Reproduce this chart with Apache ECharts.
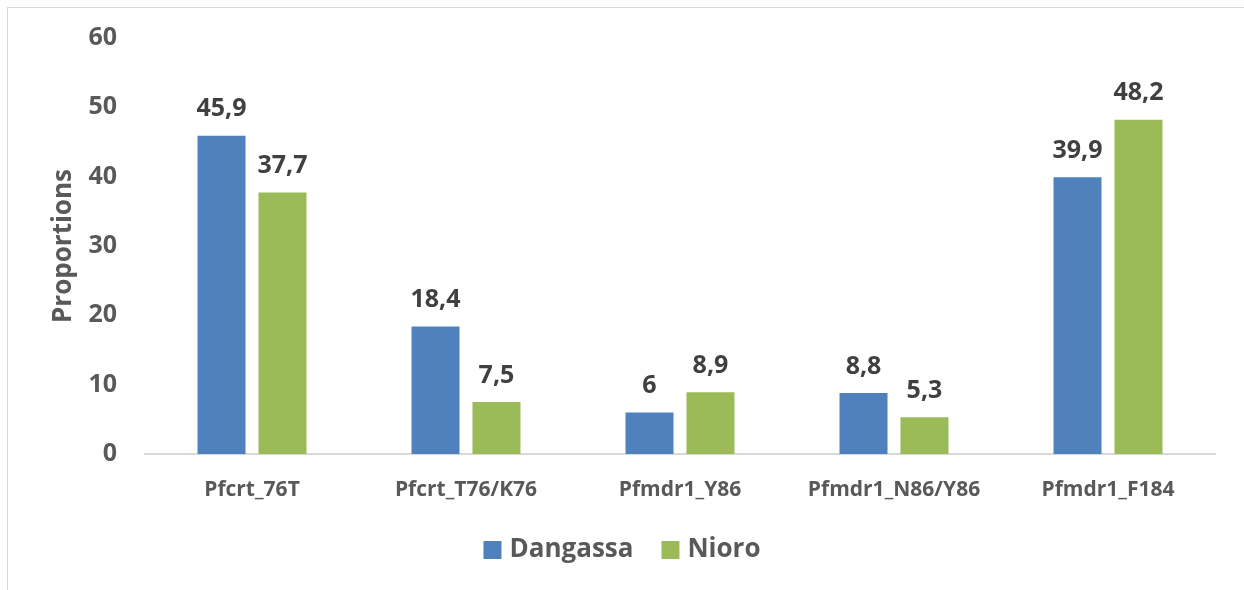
<!DOCTYPE html>
<html>
<head>
<meta charset="utf-8">
<script src="https://cdn.jsdelivr.net/npm/echarts@6/dist/echarts.min.js"></script>
<style>
  html, body { margin: 0; padding: 0; background: #fff; }
  #frame { position: absolute; left: 7px; top: 7px; width: 1240px; height: 590px; border: 1px solid #d9d9d9; box-sizing: border-box; }
  #chart { position: absolute; left: 0; top: 0; width: 1244px; height: 590px; }
</style>
</head>
<body>
<div id="frame"></div>
<div id="chart"></div>
<script>
var categories = ['Pfcrt_76T', 'Pfcrt_T76/K76', 'Pfmdr1_Y86', 'Pfmdr1_N86/Y86', 'Pfmdr1_F184'];
var dangassa = [45.9, 18.4, 6, 8.8, 39.9];
var nioro = [37.7, 7.5, 8.9, 5.3, 48.2];

var fontFamily = '"Open Sans", Lato, sans-serif';

// values use a decimal comma, as in the original figure
function commaLabel(p) {
    return String(p.value).replace('.', ',');
}

var labelStyle = {
    show: true,
    position: 'top',
    distance: 14,
    formatter: commaLabel,
    color: '#404040',
    fontSize: 25,
    fontWeight: 'bold',
    fontFamily: fontFamily
};

var chart = echarts.init(document.getElementById('chart'));
chart.setOption({
    animation: false,
    grid: { left: 145, right: 29, top: 38, bottom: 136 },
    legend: {
        bottom: 22,
        left: 'center',
        itemWidth: 18,
        itemHeight: 18,
        itemGap: 28,
        icon: 'rect',
        textStyle: { color: '#595959', fontSize: 26, fontWeight: 'bold', fontFamily: fontFamily, padding: [0, 0, 0, 3] },
        data: ['Dangassa', 'Nioro']
    },
    xAxis: {
        type: 'category',
        data: categories,
        axisLine: { lineStyle: { color: '#d9d9d9', width: 2 } },
        axisTick: { show: false },
        axisLabel: { interval: 0, color: '#595959', fontSize: 21, fontWeight: 'bold', fontFamily: fontFamily, margin: 26 }
    },
    yAxis: {
        type: 'value',
        min: 0,
        max: 60,
        interval: 10,
        name: 'Proportions',
        nameLocation: 'middle',
        nameGap: 68,
        nameTextStyle: { color: '#595959', fontSize: 26, fontWeight: 'bold', fontFamily: fontFamily },
        axisLine: { show: false },
        axisTick: { show: false },
        splitLine: { show: false },
        axisLabel: { color: '#595959', fontSize: 25, fontWeight: 'bold', fontFamily: fontFamily, margin: 28 }
    },
    series: [
        {
            name: 'Dangassa',
            type: 'bar',
            data: dangassa,
            barWidth: 48,
            barGap: '27%',
            itemStyle: { color: '#4f81bd' },
            label: labelStyle
        },
        {
            name: 'Nioro',
            type: 'bar',
            data: nioro,
            barWidth: 48,
            itemStyle: { color: '#9bbb59' },
            label: labelStyle
        }
    ]
});
</script>
</body>
</html>
